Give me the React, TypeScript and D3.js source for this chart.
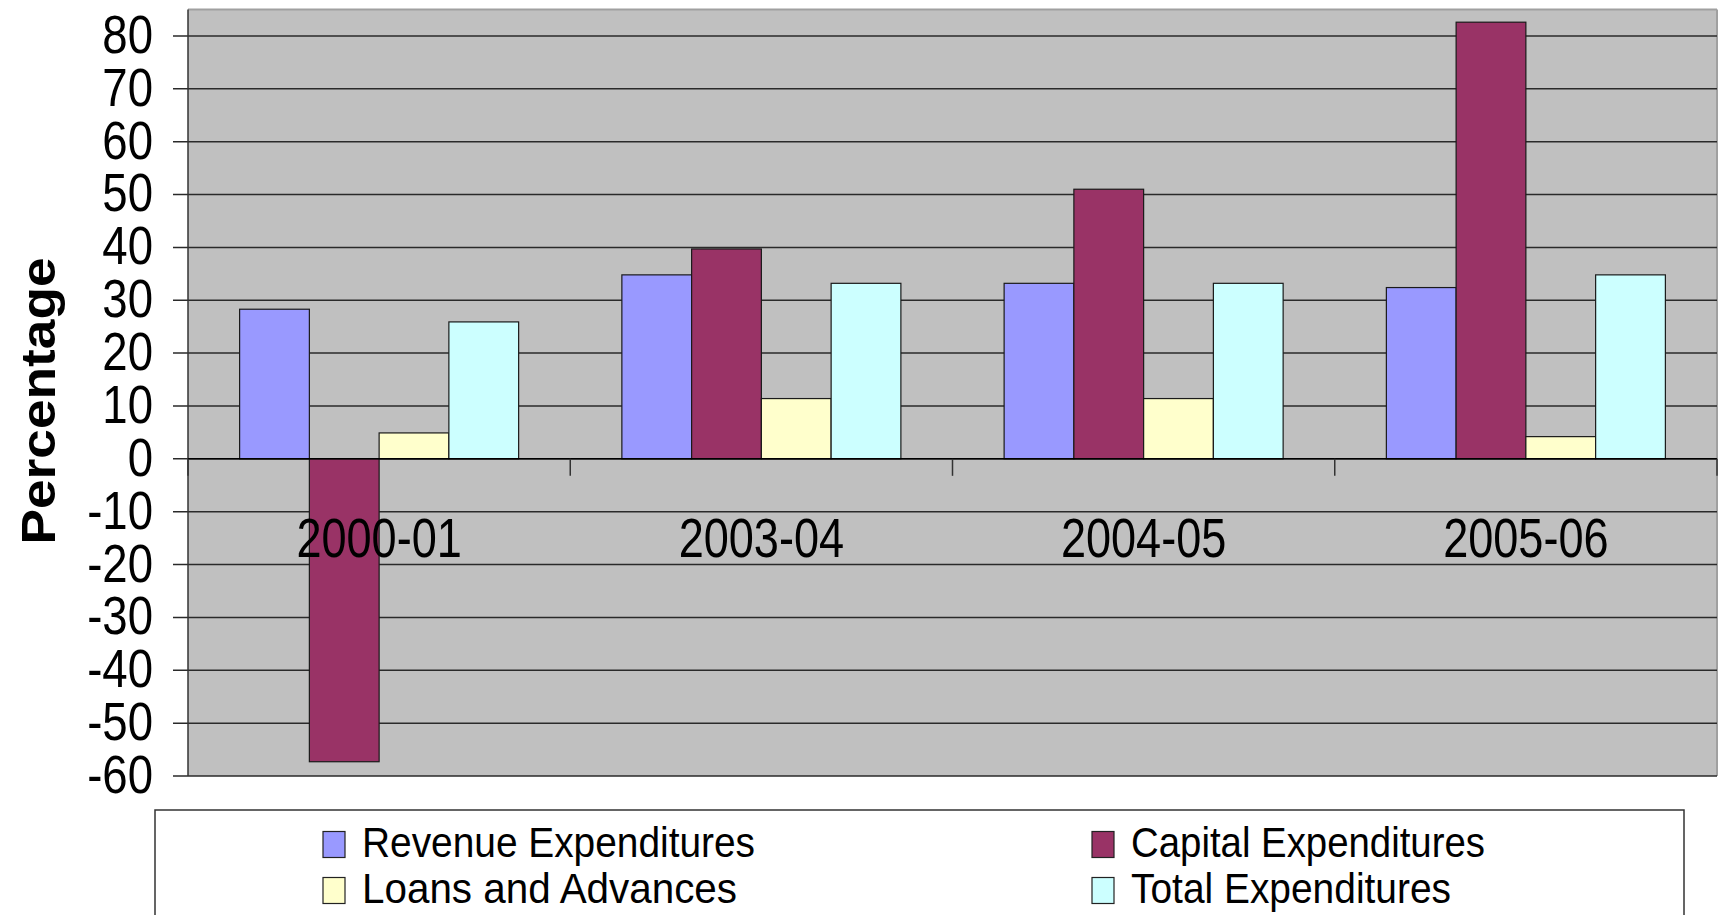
import React from "react";
import * as d3 from "d3";

const categories = ["2000-01", "2003-04", "2004-05", "2005-06"];
const seriesNames = [
  "Revenue Expenditures",
  "Capital Expenditures",
  "Loans and Advances",
  "Total Expenditures",
];
const revenueExp = [28.3, 34.8, 33.2, 32.4];
const capitalExp = [-57.3, 39.7, 51.0, 82.6];
const loansAdv = [4.9, 11.4, 11.4, 4.2];
const totalExp = [25.9, 33.2, 33.2, 34.8];
const seriesValues = [revenueExp, capitalExp, loansAdv, totalExp];
const seriesColors = ["#9999FF", "#993366", "#FFFFCC", "#CCFFFF"];
const yTickValues = [-60, -50, -40, -30, -20, -10, 0, 10, 20, 30, 40, 50, 60, 70, 80];
const yAxisTitle = "Percentage";

const W = 1720;
const H = 915;
const FONT = "'Liberation Sans', Arial, Helvetica, sans-serif";

export default function App() {
  const plotLeft = 188;
  const plotRight = 1717;
  const plotTop = 9.5;
  const plotBottom = 776;

  const y = d3.scaleLinear().domain([-60, 85]).range([plotBottom, plotTop]);
  const x0 = d3
    .scaleBand<string>()
    .domain(categories)
    .range([plotLeft, plotRight])
    .paddingInner(0)
    .paddingOuter(0);
  const x1 = d3
    .scaleBand<string>()
    .domain(seriesNames)
    .range([0, x0.bandwidth()])
    .paddingInner(0)
    .paddingOuter(0.74);

  const y0 = y(0);

  const legendItems = [
    { name: seriesNames[0], color: seriesColors[0], sx: 323, tx: 362, base: 857, len: 393 },
    { name: seriesNames[1], color: seriesColors[1], sx: 1092, tx: 1131, base: 857, len: 354 },
    { name: seriesNames[2], color: seriesColors[2], sx: 323, tx: 362, base: 903, len: 375 },
    { name: seriesNames[3], color: seriesColors[3], sx: 1092, tx: 1131, base: 903, len: 320 },
  ];

  return (
    <svg
      width={W}
      height={H}
      viewBox={`0 0 ${W} ${H}`}
      style={{ position: "absolute", left: 0, top: 0, display: "block", background: "#fff" }}
      fontFamily={FONT}
    >
      <rect x={plotLeft} y={plotTop} width={plotRight - plotLeft} height={plotBottom - plotTop} fill="#C0C0C0" />
      <line x1={plotLeft} x2={plotRight} y1={plotTop} y2={plotTop} stroke="#a0a0a0" strokeWidth={2} />
      <line x1={plotRight} x2={plotRight} y1={plotTop} y2={plotBottom} stroke="#a0a0a0" strokeWidth={2} />

      {yTickValues.map((v) => (
        <g key={v}>
          <line x1={173} x2={plotRight} y1={y(v)} y2={y(v)} stroke="#2a2a2a" strokeWidth={1.5} />
          <text
            transform={`translate(153, ${y(v)}) scale(0.86, 1)`}
            dy="0.32em"
            textAnchor="end"
            fontSize={53}
            fill="#000"
          >
            {v}
          </text>
        </g>
      ))}

      <line x1={plotLeft} x2={plotLeft} y1={plotTop} y2={plotBottom} stroke="#333" strokeWidth={1.5} />

      {categories.map((c, ci) => (
        <g key={c} transform={`translate(${x0(c)}, 0)`}>
          {seriesNames.map((s, si) => {
            const v = seriesValues[si][ci];
            const top = Math.min(y(v), y0);
            const h = Math.abs(y(v) - y0);
            return (
              <rect
                key={s}
                x={x1(s)}
                y={top}
                width={x1.bandwidth()}
                height={h}
                fill={seriesColors[si]}
                stroke="#1a1a1a"
                strokeWidth={1.2}
              />
            );
          })}
        </g>
      ))}

      <line x1={plotLeft} x2={plotRight} y1={y0} y2={y0} stroke="#000" strokeWidth={1.5} />
      {categories.map((c) => {
        const xt = (x0(c) as number) + x0.bandwidth();
        return <line key={"t" + c} x1={xt} x2={xt} y1={y0} y2={y0 + 17} stroke="#333" strokeWidth={1.5} />;
      })}
      <line x1={plotLeft} x2={plotLeft} y1={y0} y2={y0 + 17} stroke="#333" strokeWidth={1.5} />

      {categories.map((c) => (
        <text
          key={"l" + c}
          transform={`translate(${(x0(c) as number) + x0.bandwidth() / 2}, ${y0 + 98}) scale(0.82, 1)`}
          textAnchor="middle"
          fontSize={55}
          fill="#000"
        >
          {c}
        </text>
      ))}

      <text
        transform={`translate(55, 401) rotate(-90)`}
        textAnchor="middle"
        fontSize={48}
        fontWeight="bold"
        textLength={287}
        lengthAdjust="spacingAndGlyphs"
        fill="#000"
      >
        {yAxisTitle}
      </text>

      <rect x={155} y={810} width={1684 - 155} height={H - 810 + 20} fill="#fff" stroke="#333" strokeWidth={1.5} />
      {legendItems.map((it) => (
        <g key={it.name}>
          <rect x={it.sx} y={it.base - 25.5} width={22} height={26} fill={it.color} stroke="#222" strokeWidth={1.2} />
          <text
            x={it.tx}
            y={it.base}
            fontSize={42}
            textLength={it.len}
            lengthAdjust="spacingAndGlyphs"
            fill="#000"
          >
            {it.name}
          </text>
        </g>
      ))}
    </svg>
  );
}
